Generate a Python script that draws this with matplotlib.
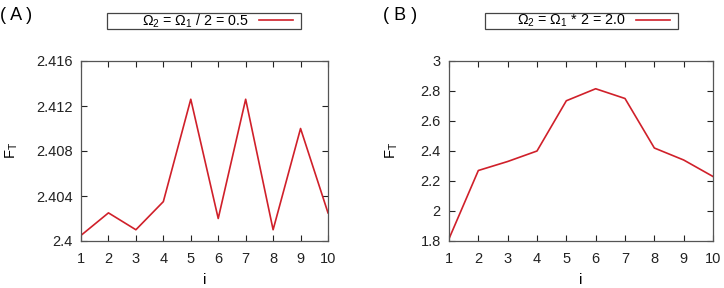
import matplotlib
matplotlib.use("Agg")
import matplotlib.pyplot as plt
from matplotlib.patches import Rectangle

plt.rcParams['font.family'] = ['Liberation Sans', 'DejaVu Sans']
plt.rcParams['mathtext.fontset'] = 'custom'
plt.rcParams['mathtext.rm'] = 'Liberation Sans'
plt.rcParams['mathtext.it'] = 'Liberation Sans'

i_vals = [1, 2, 3, 4, 5, 6, 7, 8, 9, 10]
ft_a = [2.4005, 2.4025, 2.401, 2.4035, 2.4126, 2.402, 2.4126, 2.401, 2.410, 2.4025]
ft_b = [1.815, 2.27, 2.33, 2.40, 2.735, 2.815, 2.75, 2.42, 2.34, 2.23]
yticks_a = [2.4, 2.404, 2.408, 2.412, 2.416]
yticklabels_a = ['2.4', '2.404', '2.408', '2.412', '2.416']
yticks_b = [1.8, 2.0, 2.2, 2.4, 2.6, 2.8, 3.0]
yticklabels_b = ['1.8', '2', '2.2', '2.4', '2.6', '2.8', '3']
label_a = r'$\Omega_2$ = $\Omega_1$ / 2 = 0.5'
label_b = r'$\Omega_2$ = $\Omega_1$ * 2 = 2.0'

W, H = 724, 288
fig = plt.figure(figsize=(W / 100, H / 100), dpi=100)

def make_axes(x0, x1, y0, y1):
    return fig.add_axes([x0 / W, 1 - y1 / H, (x1 - x0) / W, (y1 - y0) / H])

line_color = '#d0202a'

panels = [
    (make_axes(81, 328, 61, 241), ft_a, yticks_a, yticklabels_a, (2.4, 2.416), label_a, '( A )', 0, (107, 301), 4),
    (make_axes(449, 713, 61, 241), ft_b, yticks_b, yticklabels_b, (1.8, 3.0), label_b, '( B )', 383, (485, 678), 384),
]

for ax, ys, yt, ytl, ylim, lab, tag, tagx, (lx0, lx1), ylx in panels:
    ln, = ax.plot(i_vals, ys, color=line_color, lw=1.2)
    ax.set_xlim(1, 10)
    ax.set_ylim(*ylim)
    ax.set_xticks(i_vals)
    ax.set_yticks(yt)
    ax.set_yticklabels(ytl)
    ax.tick_params(direction='in', top=True, right=True, length=4, width=0.8,
                   labelsize=10.5, colors='#222222')
    ax.tick_params(axis='x', pad=8)
    ax.tick_params(axis='y', pad=6)
    for s in ax.spines.values():
        s.set_color('#555555')
        s.set_linewidth(0.9)
    ax.set_xlabel('i', fontsize=11, labelpad=5)
    fig.text(ylx / W, 1 - 150 / H, r'F$_\mathrm{T}$', rotation=90, fontsize=10.5,
             ha='left', va='center')
    fig.text(tagx / W, 1 - 15 / H, tag, fontsize=13, ha='left', va='center')
    fig.patches.append(Rectangle((lx0 / W, 1 - 29 / H), (lx1 - lx0) / W, 16 / H,
                                 transform=fig.transFigure, fill=False,
                                 edgecolor='#444444', linewidth=0.9))
    leg = fig.legend([ln], [lab], loc='center right',
                     bbox_to_anchor=((lx1 - 8) / W, 1 - 21 / H),
                     markerfirst=False, frameon=False,
                     fontsize=10.3, handlelength=2.4, borderpad=0.0, handletextpad=0.7,
                     borderaxespad=0)

fig.savefig('out.png', dpi=100)
